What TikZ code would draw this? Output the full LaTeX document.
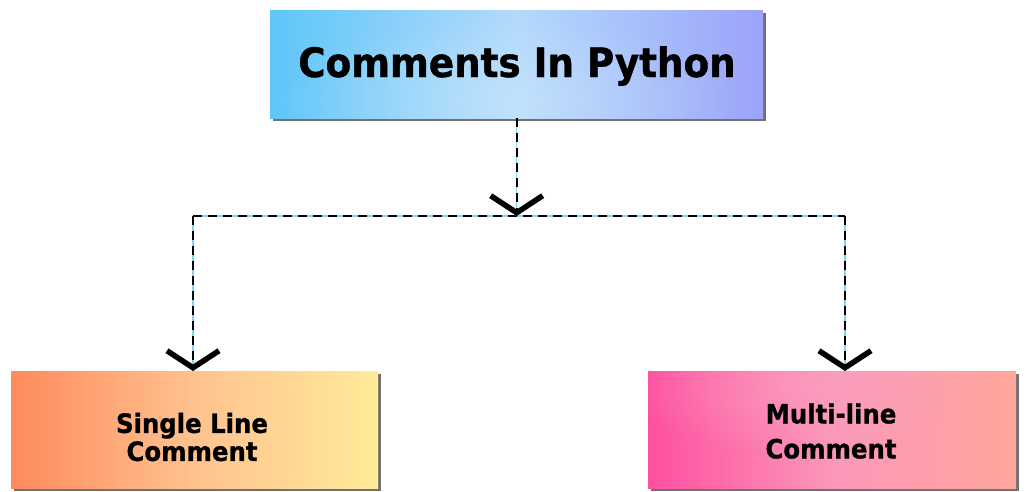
\documentclass[tikz,border=0pt]{standalone}
\usepackage{fontspec}
\newfontfamily\boxfont[FakeStretch=0.92,FakeBold=1]{DejaVu Sans}
\usetikzlibrary{arrows.meta,shadows,fadings}
\definecolor{skyL}{HTML}{5EC6F8}
\definecolor{skyM}{HTML}{B3DAFB}
\definecolor{skyR}{HTML}{9CA3FA}
\definecolor{skyGlow}{HTML}{D4EBFC}
\definecolor{orgL}{HTML}{FF8A5C}
\definecolor{orgM}{HTML}{FFC28F}
\definecolor{orgR}{HTML}{FFEB98}
\definecolor{pnkL}{HTML}{FF4F9F}
\definecolor{pnkM}{HTML}{FB98BA}
\definecolor{pnkR}{HTML}{FFA69B}
\definecolor{pnkGlow}{HTML}{FAA8C6}
\definecolor{wire}{HTML}{7FD6EC}
\tikzfading[name=glow, inner color=transparent!55, outer color=transparent!100]
\tikzset{
  box/.style={rectangle, inner sep=0pt, anchor=north west,
    drop shadow={shadow xshift=3pt, shadow yshift=-3pt, fill=black!65, opacity=0.85}},
  label/.style={align=center, inner sep=0pt},
  chevron/.tip={Straight Barb[length=17pt, width=52pt, line width=5.5pt]},
  wireunder/.style={draw=wire, line width=1.3pt},
  wireover/.style={draw=black, line width=2.2pt, dash pattern=on 9pt off 6pt}
}
\begin{document}
\begin{tikzpicture}[x=1pt, y=-1pt]
  \useasboundingbox (0,0) rectangle (1029,492);
  \fill[white] (0,0) rectangle (1029,492);

  % boxes
  \node[box, minimum width=493pt, minimum height=108pt,
        left color=skyL, right color=skyR, middle color=skyM] (top) at (270,10) {};
  \node[box, minimum width=367pt, minimum height=117pt,
        left color=orgL, right color=orgR, middle color=orgM] (left) at (11,371) {};
  \node[box, minimum width=368pt, minimum height=117pt, shading angle=100,
        left color=pnkL, right color=pnkR, middle color=pnkM] (right) at (648,371) {};

  % soft highlights on the boxes
  \begin{scope}
    \clip (top.north west) rectangle (top.south east);
    \fill[skyGlow, path fading=glow] (505,100) ellipse (230pt and 85pt);
  \end{scope}
  \begin{scope}
    \clip (right.north west) rectangle (right.south east);
    \fill[pnkGlow, path fading=glow] (790,385) ellipse (170pt and 70pt);
  \end{scope}

  % labels
  \node[label, font=\boxfont\bfseries\fontsize{40.5}{44}\selectfont] (toptxt) at (517,66) {Comments In Python};
  \node[label, font=\boxfont\bfseries\fontsize{26.5}{28}\selectfont] (lefttxt) at (192,437) {Single Line\\Comment};
  \node[label, font=\boxfont\bfseries\fontsize{26.5}{35}\selectfont] (righttxt) at (831,431) {Multi-line\\Comment};

  % junction points of the tree
  \coordinate (hub) at (top.south |- 0,216);
  \coordinate (ljoin) at (193,216);
  \coordinate (rjoin) at (845,216);

  % light underlay of the connectors
  \draw[wireunder] (top.south) -- (hub);
  \draw[wireunder] (ljoin) -- (rjoin);
  \draw[wireunder] (ljoin) -- (ljoin |- left.north);
  \draw[wireunder] (rjoin) -- (rjoin |- right.north);

  % dashed connectors with chevron heads
  \draw[wireover] (ljoin) -- (rjoin);
  \draw[wireover, -chevron] (top.south) -- (hub);
  \draw[wireover, -chevron] (ljoin) -- (ljoin |- left.north);
  \draw[wireover, -chevron] (rjoin) -- (rjoin |- right.north);
\end{tikzpicture}
\end{document}
